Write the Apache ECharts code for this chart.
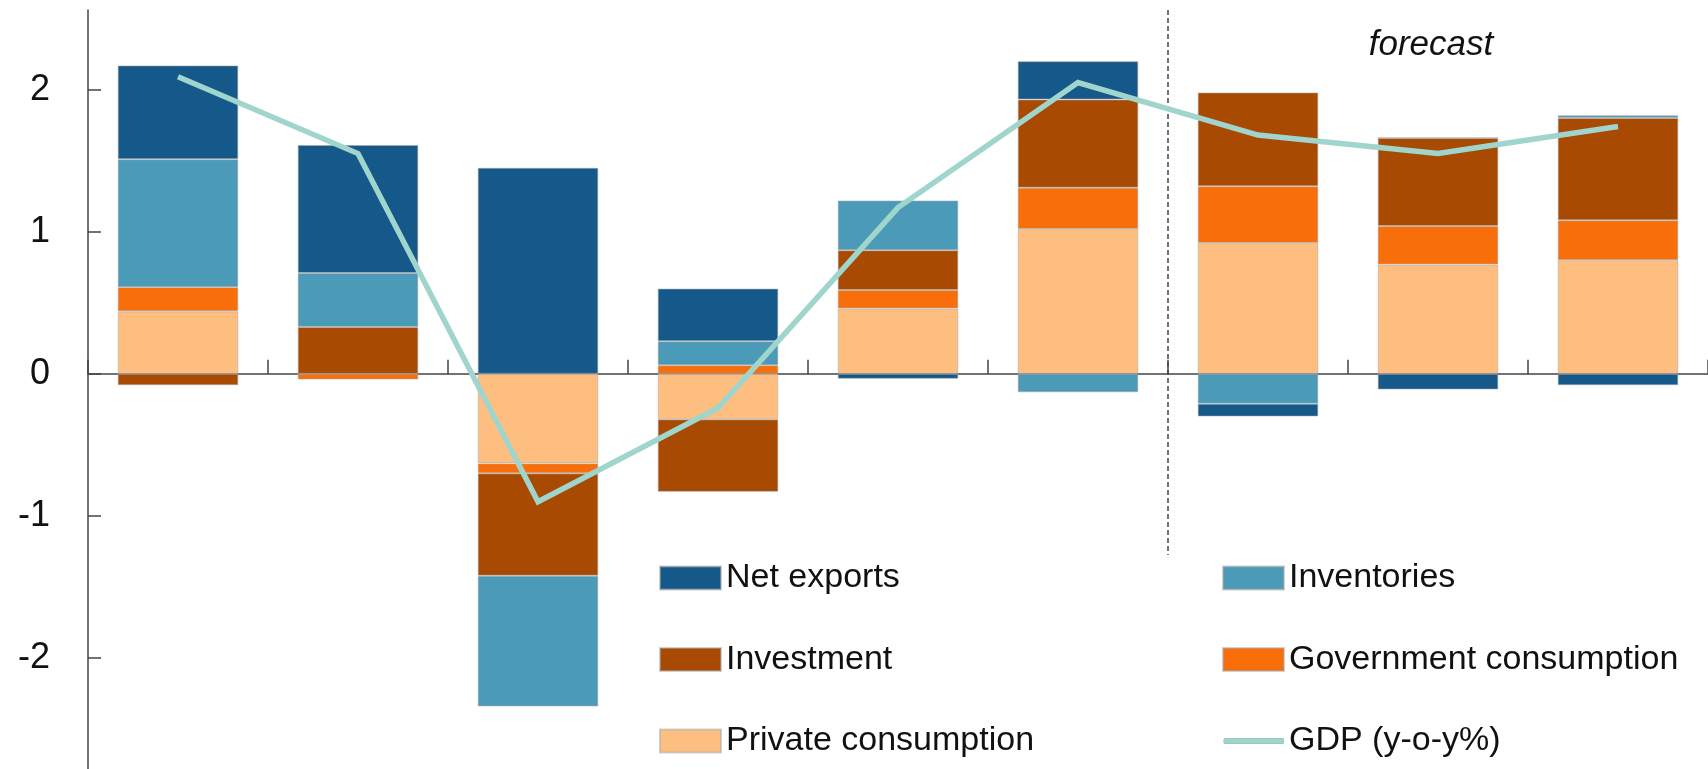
<!DOCTYPE html>
<html>
<head>
<meta charset="utf-8">
<script src="https://cdn.jsdelivr.net/npm/echarts@6/dist/echarts.min.js"></script>
<style>
  html, body { margin: 0; padding: 0; background: #fff; }
  #chart { width: 1708px; height: 769px; }
</style>
</head>
<body>
<div id="chart"></div>
<script>
// ---- data ----
const categories = ['2017', '2018', '2019', '2020', '2021', '2022', '2023', '2024', '2025'];
const privateConsumption = [0.44, 0.00, -0.63, -0.32, 0.46, 1.02, 0.92, 0.77, 0.80];
const governmentConsumption = [0.17, -0.04, -0.07, 0.06, 0.13, 0.29, 0.40, 0.27, 0.28];
const investment = [-0.08, 0.33, -0.72, -0.51, 0.28, 0.62, 0.66, 0.62, 0.72];
const inventories = [0.90, 0.38, -0.92, 0.17, 0.35, -0.13, -0.21, 0.00, 0.02];
const netExports = [0.66, 0.90, 1.45, 0.37, -0.035, 0.27, -0.09, -0.11, -0.08];
const gdp = [2.09, 1.55, -0.90, -0.24, 1.17, 2.05, 1.68, 1.55, 1.74];
const yTicks = [-2, -1, 0, 1, 2];
const forecastStart = 6;           // boundary index where forecast begins
const forecastLineRange = [2.56, -1.275];
const forecastLabel = 'forecast';

const colors = {
  net: '#15588a',
  inv: '#4a9ab8',
  invest: '#a84a02',
  gov: '#f86e0b',
  priv: '#fdbe80',
  gdp: '#9fd5cc'
};

const FONT = '"Liberation Sans", Arial, sans-serif';
const chart = echarts.init(document.getElementById('chart'));

const barCommon = {
  type: 'bar',
  stack: 'total',
  barWidth: '67%',
  xAxisIndex: 0,
  yAxisIndex: 0
};
function bar(name, data, color) {
  return Object.assign({}, barCommon, {
    name: name,
    data: data,
    itemStyle: { color: color, borderColor: 'rgba(170,170,170,0.55)', borderWidth: 1 }
  });
}

const legendText = { fontFamily: FONT, fontSize: 34, color: '#111', lineHeight: 40 };
const legendCommon = {
  orient: 'vertical',
  top: 558,
  padding: 0,
  itemWidth: 61,
  itemHeight: 23,
  itemGap: 41.5,
  textStyle: legendText
};
const lineIcon = 'path://M0,0L0.01,0M1,9L60,9Q61,11.5 60,14L1,14Q0,11.5 1,9ZM0,23L0.01,23';

chart.setOption({
  animation: false,
  backgroundColor: '#fff',
  grid: { left: 88, right: 0, top: 10, bottom: 0, containLabel: false },
  xAxis: [
    {
      type: 'category',
      data: categories,
      boundaryGap: true,
      axisLine: { onZero: true, lineStyle: { color: '#444', width: 1.5 } },
      axisTick: { show: true, inside: true, length: 14, interval: 0, alignWithLabel: false, lineStyle: { color: '#444', width: 1.5 } },
      axisLabel: { show: false },
      splitLine: { show: false }
    },
    {
      type: 'value',
      min: 0,
      max: categories.length,
      show: false
    }
  ],
  yAxis: {
    type: 'value',
    min: -2.78,
    max: 2.56,
    axisLine: { show: true, onZero: false, lineStyle: { color: '#444', width: 1.5 } },
    axisTick: { show: true, inside: true, length: 13, customValues: yTicks, lineStyle: { color: '#444', width: 1.5 } },
    axisLabel: { show: true, customValues: yTicks, margin: 38, fontFamily: FONT, fontSize: 36, color: '#111' },
    splitLine: { show: false }
  },
  legend: [
    Object.assign({}, legendCommon, {
      left: 659,
      data: [
        { name: 'Net exports', icon: 'rect' },
        { name: 'Investment', icon: 'rect' },
        { name: 'Private consumption', icon: 'rect' }
      ]
    }),
    Object.assign({}, legendCommon, {
      left: 1222,
      data: [
        { name: 'Inventories', icon: 'rect' },
        { name: 'Government consumption', icon: 'rect' },
        { name: 'GDP (y-o-y%)', icon: lineIcon, itemStyle: { color: colors.gdp, borderColor: '#8cc3ba', borderWidth: 0.8 } }
      ]
    })
  ],
  graphic: [
    {
      type: 'text',
      x: 1431,
      y: 45,
      silent: true,
      style: {
        text: forecastLabel,
        fontFamily: FONT,
        fontStyle: 'italic',
        fontSize: 35,
        fill: '#111',
        align: 'center',
        verticalAlign: 'middle'
      }
    }
  ],
  series: [
    bar('Private consumption', privateConsumption, colors.priv),
    bar('Government consumption', governmentConsumption, colors.gov),
    bar('Investment', investment, colors.invest),
    bar('Inventories', inventories, colors.inv),
    bar('Net exports', netExports, colors.net),
    {
      name: 'GDP (y-o-y%)',
      type: 'line',
      data: gdp,
      xAxisIndex: 0,
      yAxisIndex: 0,
      symbol: 'none',
      showSymbol: false,
      z: 5,
      lineStyle: { color: colors.gdp, width: 5.5, join: 'miter' },
      itemStyle: { color: colors.gdp }
    },
    {
      name: 'forecast-divider',
      type: 'line',
      xAxisIndex: 1,
      yAxisIndex: 0,
      data: [[forecastStart, forecastLineRange[0]], [forecastStart, forecastLineRange[1]]],
      symbol: 'none',
      silent: true,
      z: 1,
      lineStyle: { color: '#444', width: 1.5, type: [5, 3] }
    }
  ]
});
</script>
</body>
</html>
